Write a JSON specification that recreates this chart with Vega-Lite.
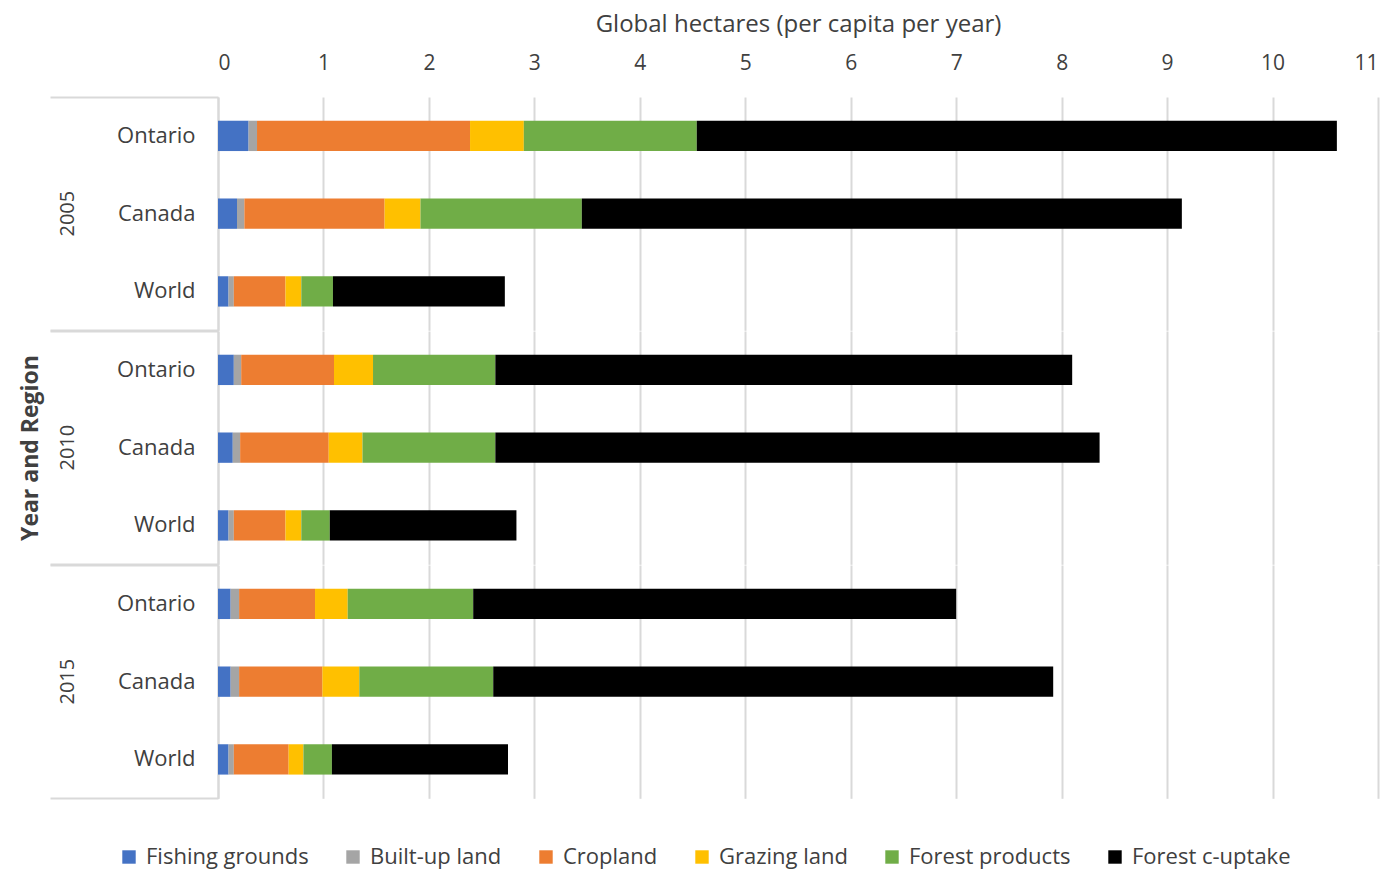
{
  "$schema": "https://vega.github.io/schema/vega-lite/v6.json",
  "padding": {"left": 19, "top": 12, "right": 5, "bottom": 5},
  "background": "white",
  "data": {"values": [
    {"year": "2005", "region": "Ontario", "category": "Fishing grounds", "k": 1, "value": 0.29},
    {"year": "2005", "region": "Ontario", "category": "Built-up land", "k": 2, "value": 0.08},
    {"year": "2005", "region": "Ontario", "category": "Cropland", "k": 3, "value": 2.02},
    {"year": "2005", "region": "Ontario", "category": "Grazing land", "k": 4, "value": 0.51},
    {"year": "2005", "region": "Ontario", "category": "Forest products", "k": 5, "value": 1.64},
    {"year": "2005", "region": "Ontario", "category": "Forest c-uptake", "k": 6, "value": 6.07},
    {"year": "2005", "region": "Canada", "category": "Fishing grounds", "k": 1, "value": 0.18},
    {"year": "2005", "region": "Canada", "category": "Built-up land", "k": 2, "value": 0.07},
    {"year": "2005", "region": "Canada", "category": "Cropland", "k": 3, "value": 1.33},
    {"year": "2005", "region": "Canada", "category": "Grazing land", "k": 4, "value": 0.34},
    {"year": "2005", "region": "Canada", "category": "Forest products", "k": 5, "value": 1.53},
    {"year": "2005", "region": "Canada", "category": "Forest c-uptake", "k": 6, "value": 5.69},
    {"year": "2005", "region": "World", "category": "Fishing grounds", "k": 1, "value": 0.10},
    {"year": "2005", "region": "World", "category": "Built-up land", "k": 2, "value": 0.05},
    {"year": "2005", "region": "World", "category": "Cropland", "k": 3, "value": 0.49},
    {"year": "2005", "region": "World", "category": "Grazing land", "k": 4, "value": 0.15},
    {"year": "2005", "region": "World", "category": "Forest products", "k": 5, "value": 0.30},
    {"year": "2005", "region": "World", "category": "Forest c-uptake", "k": 6, "value": 1.63},
    {"year": "2010", "region": "Ontario", "category": "Fishing grounds", "k": 1, "value": 0.15},
    {"year": "2010", "region": "Ontario", "category": "Built-up land", "k": 2, "value": 0.07},
    {"year": "2010", "region": "Ontario", "category": "Cropland", "k": 3, "value": 0.88},
    {"year": "2010", "region": "Ontario", "category": "Grazing land", "k": 4, "value": 0.37},
    {"year": "2010", "region": "Ontario", "category": "Forest products", "k": 5, "value": 1.16},
    {"year": "2010", "region": "Ontario", "category": "Forest c-uptake", "k": 6, "value": 5.47},
    {"year": "2010", "region": "Canada", "category": "Fishing grounds", "k": 1, "value": 0.14},
    {"year": "2010", "region": "Canada", "category": "Built-up land", "k": 2, "value": 0.07},
    {"year": "2010", "region": "Canada", "category": "Cropland", "k": 3, "value": 0.84},
    {"year": "2010", "region": "Canada", "category": "Grazing land", "k": 4, "value": 0.32},
    {"year": "2010", "region": "Canada", "category": "Forest products", "k": 5, "value": 1.26},
    {"year": "2010", "region": "Canada", "category": "Forest c-uptake", "k": 6, "value": 5.73},
    {"year": "2010", "region": "World", "category": "Fishing grounds", "k": 1, "value": 0.10},
    {"year": "2010", "region": "World", "category": "Built-up land", "k": 2, "value": 0.05},
    {"year": "2010", "region": "World", "category": "Cropland", "k": 3, "value": 0.49},
    {"year": "2010", "region": "World", "category": "Grazing land", "k": 4, "value": 0.15},
    {"year": "2010", "region": "World", "category": "Forest products", "k": 5, "value": 0.27},
    {"year": "2010", "region": "World", "category": "Forest c-uptake", "k": 6, "value": 1.77},
    {"year": "2015", "region": "Ontario", "category": "Fishing grounds", "k": 1, "value": 0.12},
    {"year": "2015", "region": "Ontario", "category": "Built-up land", "k": 2, "value": 0.08},
    {"year": "2015", "region": "Ontario", "category": "Cropland", "k": 3, "value": 0.72},
    {"year": "2015", "region": "Ontario", "category": "Grazing land", "k": 4, "value": 0.31},
    {"year": "2015", "region": "Ontario", "category": "Forest products", "k": 5, "value": 1.19},
    {"year": "2015", "region": "Ontario", "category": "Forest c-uptake", "k": 6, "value": 4.58},
    {"year": "2015", "region": "Canada", "category": "Fishing grounds", "k": 1, "value": 0.12},
    {"year": "2015", "region": "Canada", "category": "Built-up land", "k": 2, "value": 0.08},
    {"year": "2015", "region": "Canada", "category": "Cropland", "k": 3, "value": 0.79},
    {"year": "2015", "region": "Canada", "category": "Grazing land", "k": 4, "value": 0.35},
    {"year": "2015", "region": "Canada", "category": "Forest products", "k": 5, "value": 1.27},
    {"year": "2015", "region": "Canada", "category": "Forest c-uptake", "k": 6, "value": 5.31},
    {"year": "2015", "region": "World", "category": "Fishing grounds", "k": 1, "value": 0.10},
    {"year": "2015", "region": "World", "category": "Built-up land", "k": 2, "value": 0.05},
    {"year": "2015", "region": "World", "category": "Cropland", "k": 3, "value": 0.52},
    {"year": "2015", "region": "World", "category": "Grazing land", "k": 4, "value": 0.14},
    {"year": "2015", "region": "World", "category": "Forest products", "k": 5, "value": 0.27},
    {"year": "2015", "region": "World", "category": "Forest c-uptake", "k": 6, "value": 1.67}
  ]},
  "facet": {
    "row": {
      "field": "year", "type": "ordinal",
      "header": {
        "title": "Year and Region",
        "titleFontSize": 23, "titleFontWeight": "bold", "titleColor": "#404040", "titleFont": "Open Sans",
        "titleAngle": -90, "titleOrient": "left", "titlePadding": -27,
        "labelAngle": -90, "labelOrient": "left", "labelFontSize": 20, "labelColor": "#404040", "labelFont": "Open Sans",
        "labelPadding": -39
      }
    }
  },
  "spacing": 0,
  "spec": {
    "width": 1160,
    "height": 233.3,
    "mark": {"type": "bar", "height": {"band": 0.39}},
    "encoding": {
      "y": {
        "field": "region", "type": "nominal", "sort": ["Ontario", "Canada", "World"],
        "scale": {"paddingInner": 0, "paddingOuter": 0},
        "axis": {
          "title": null, "grid": false,
          "domain": true, "domainColor": "#d9d9d9", "domainWidth": 2,
          "ticks": true, "bandPosition": 1, "tickExtra": true, "tickSize": 168, "tickWidth": 2,
          "tickColor": {"condition": {"test": "datum.value === 'World' || datum.extra", "value": "#d9d9d9"}, "value": "transparent"},
          "labelPadding": -145, "labelFontSize": 22, "labelColor": "#404040", "labelFont": "Open Sans"
        }
      },
      "x": {
        "field": "value", "type": "quantitative", "stack": "zero",
        "scale": {"domain": [0, 11], "nice": false},
        "axis": {
          "orient": "top", "values": [0,1,2,3,4,5,6,7,8,9,10,11],
          "title": "Global hectares (per capita per year)",
          "titleFontSize": 24, "titleFontWeight": "normal", "titleColor": "#404040", "titleFont": "Open Sans", "titlePadding": 16,
          "grid": true, "gridColor": "#d9d9d9", "gridWidth": 2,
          "ticks": false, "domain": false,
          "labelFontSize": 21, "labelColor": "#404040", "labelFont": "Open Sans", "labelPadding": 24
        }
      },
      "color": {
        "field": "category", "type": "nominal",
        "scale": {
          "domain": ["Fishing grounds", "Built-up land", "Cropland", "Grazing land", "Forest products", "Forest c-uptake"],
          "range": ["#4472C4", "#A5A5A5", "#ED7D31", "#FFC000", "#70AD47", "#000000"]
        },
        "legend": {
          "title": null, "orient": "none", "legendX": -100, "legendY": 749, "direction": "horizontal",
          "symbolType": "square", "symbolSize": 180, "symbolStrokeWidth": 0,
          "labelFontSize": 22, "labelColor": "#404040", "labelFont": "Open Sans", "labelOffset": 6, "labelLimit": 0,
          "columnPadding": 33
        }
      },
      "order": {"field": "k", "type": "quantitative", "sort": "ascending"}
    }
  },
  "config": {"view": {"stroke": null}, "font": "Open Sans"}
}
